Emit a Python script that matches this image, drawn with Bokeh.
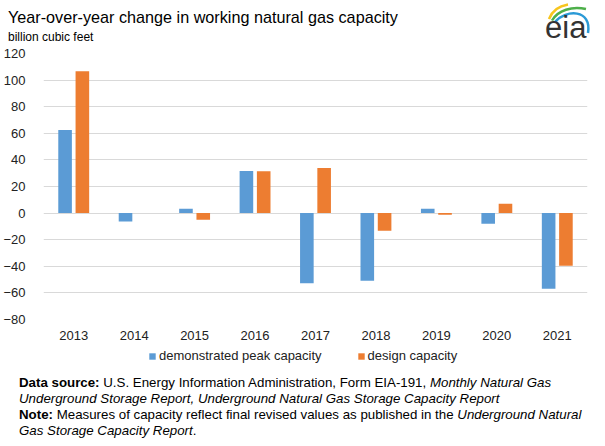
from bokeh.plotting import figure
from bokeh.models import ColumnDataSource, FactorRange, Range1d, FixedTicker, Legend, LegendItem, Div
from bokeh.layouts import column
from bokeh.transform import dodge
from bokeh.embed import file_html
from bokeh.resources import INLINE

# ---- data ----
years = ["2013", "2014", "2015", "2016", "2017", "2018", "2019", "2020", "2021"]
demonstrated_peak = [62.5, -6.3, 3.2, 31.7, -52.8, -50.8, 3.2, -8.0, -56.8]
design_capacity = [106.7, 0.0, -5.0, 31.5, 34.0, -13.3, -1.3, 7.0, -39.5]
y_ticks = [-80, -60, -40, -20, 0, 20, 40, 60, 80, 100, 120]
series_names = ["demonstrated peak capacity", "design capacity"]

title_text = "Year-over-year change in working natural gas capacity"
unit_text = "billion cubic feet"

FONT = "Liberation Sans"
BLUE = "#5b9bd5"
ORANGE = "#ed7d31"
TXT = "#222222"

# ---- header (title + eia logo) ----
header_html = (
    '<svg xmlns="http://www.w3.org/2000/svg" width="605" height="44" style="display:block">'
    f'<text x="8" y="22.5" font-family="Liberation Sans" font-size="16.2px" fill="#000">{title_text}</text>'
    f'<text x="8" y="40.5" font-family="Liberation Sans" font-size="12px" fill="#000">{unit_text}</text>'
    '<path d="M549,19 C552,11 559,6 568,4.5" stroke="#f7c51e" stroke-width="2.5" fill="none"/>'
    '<path d="M552,20.5 C558,10 572,6 586,9" stroke="#4daf4a" stroke-width="2.5" fill="none"/>'
    '<path d="M555,22 C566,9 592,9 588,33" stroke="#2b9ad6" stroke-width="2.5" fill="none"/>'
    '<text x="545" y="37.5" font-family="Liberation Serif" font-size="31px" fill="#333333">eia</text>'
    '</svg>'
)
header = Div(text=header_html, width=605, height=44, margin=(0, 0, 0, 0))

# ---- main chart ----
src = ColumnDataSource(dict(year=years, demo=demonstrated_peak, design=design_capacity))
xr = FactorRange(*years, range_padding=0)

p = figure(width=605, height=301, x_range=xr,
           y_range=Range1d(-80, 120), output_backend="svg", toolbar_location=None,
           min_border_left=43, min_border_right=18, min_border_top=9, min_border_bottom=26)
p.outline_line_color = None
p.xgrid.grid_line_color = None
p.ygrid.grid_line_color = "#d9d9d9"
p.ygrid.grid_line_width = 1

p.vbar(x=dodge("year", -0.143, range=xr), top="demo", width=0.225, source=src,
       fill_color=BLUE, line_color=None)
p.vbar(x=dodge("year", 0.143, range=xr), top="design", width=0.225, source=src,
       fill_color=ORANGE, line_color=None)

p.yaxis.ticker = FixedTicker(ticks=y_ticks)
for ax in (p.xaxis[0], p.yaxis[0]):
    ax.axis_line_color = None
    ax.major_tick_line_color = None
    ax.minor_tick_line_color = None
    ax.major_label_text_font = FONT
    ax.major_label_text_font_size = "13px"
    ax.major_label_text_color = TXT
p.yaxis.major_label_standoff = 12
p.xaxis.major_label_standoff = 5

# ---- legend strip: same bars, y window kept above the data so only the legend shows ----
lg = figure(width=605, height=25, x_range=xr, y_range=Range1d(500, 501),
            output_backend="svg", toolbar_location=None,
            min_border_left=43, min_border_right=18, min_border_top=0, min_border_bottom=0,
            x_axis_location=None, y_axis_location=None)
lg.grid.visible = False
lg.outline_line_color = None
g1 = lg.vbar(x=dodge("year", -0.143, range=xr), top="demo", width=0.225, source=src,
             fill_color=BLUE, line_color=None)
g2 = lg.vbar(x=dodge("year", 0.143, range=xr), top="design", width=0.225, source=src,
             fill_color=ORANGE, line_color=None)
legend = Legend(items=[LegendItem(label=series_names[0], renderers=[g1]),
                       LegendItem(label=series_names[1], renderers=[g2])],
                orientation="horizontal", location=(105, 7),
                border_line_color=None, background_fill_alpha=0, padding=0, margin=0,
                spacing=35, glyph_width=8, glyph_height=8, label_standoff=3,
                label_height=8, label_text_font=FONT, label_text_font_size="13px",
                label_text_color=TXT)
lg.add_layout(legend)

# ---- footnote ----
foot_html = (
    '<div style="font-family:\'Liberation Sans\',Arial,sans-serif;font-size:13.3px;'
    'line-height:16px;color:#000;padding:5px 0 0 19px;white-space:nowrap;">'
    '<b>Data source:</b> U.S. Energy Information Administration, Form EIA-191, <i>Monthly Natural Gas</i><br>'
    '<i>Underground Storage Report, Underground Natural Gas Storage Capacity Report</i><br>'
    '<b>Note:</b> Measures of capacity reflect final revised values as published in the <i>Underground Natural</i><br>'
    '<i>Gas Storage Capacity Report</i>.'
    '</div>'
)
footer = Div(text=foot_html, width=605, height=76, margin=(0, 0, 0, 0))

layout = column(header, p, lg, footer, spacing=0)
open("out.html", "w").write(file_html(layout, INLINE))
